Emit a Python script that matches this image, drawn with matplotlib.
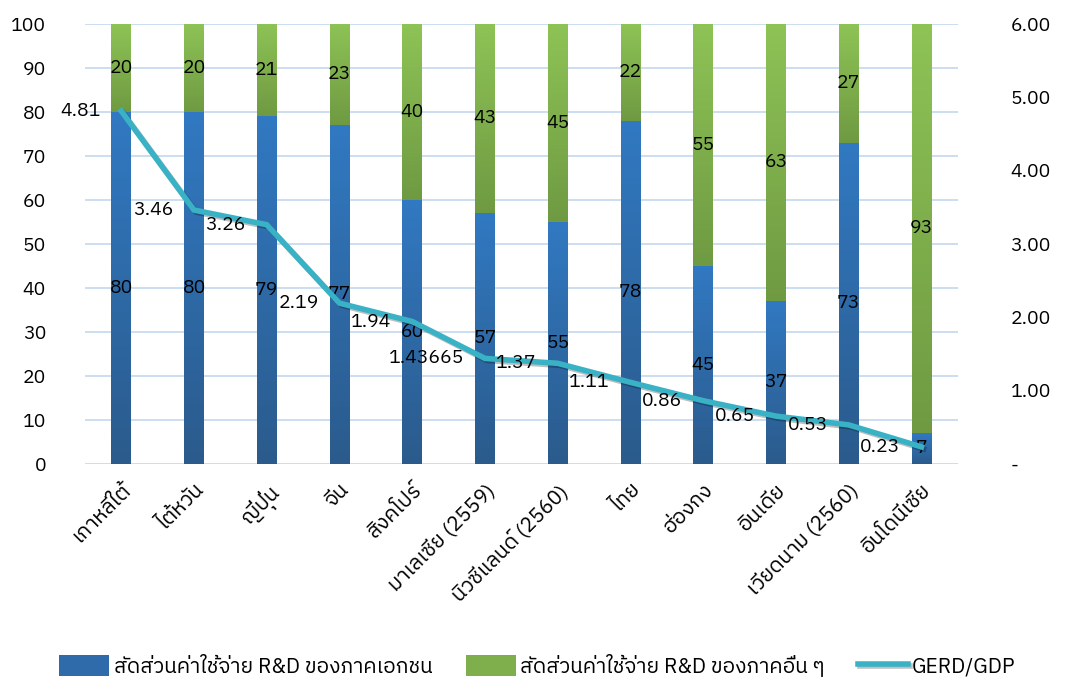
import numpy as np
import matplotlib
matplotlib.use("Agg")
import matplotlib.pyplot as plt
from matplotlib import font_manager
from matplotlib.ft2font import FT2Font
from matplotlib.colors import LinearSegmentedColormap
import matplotlib.patheffects as pe

# data
countries = ["เกาหลีใต้", "ไต้หวัน", "ญี่ปุ่น", "จีน", "สิงคโปร์", "มาเลเซีย (2559)",
             "นิวซีแลนด์ (2560)", "ไทย", "ฮ่องกง", "อินเดีย", "เวียดนาม (2560)", "อินโดนีเซีย"]
private_share = [80, 80, 79, 77, 60, 57, 55, 78, 45, 37, 73, 7]
other_share = [20, 20, 21, 23, 40, 43, 45, 22, 55, 63, 27, 93]
gerd_gdp = [4.81, 3.46, 3.26, 2.19, 1.94, 1.43665, 1.37, 1.11, 0.86, 0.65, 0.53, 0.23]
gerd_labels = ["4.81", "3.46", "3.26", "2.19", "1.94", "1.43665", "1.37", "1.11",
               "0.86", "0.65", "0.53", "0.23"]
left_ticks = [0, 10, 20, 30, 40, 50, 60, 70, 80, 90, 100]
right_ticks = [0, 1, 2, 3, 4, 5, 6]
right_tick_labels = ["-", "1.00", "2.00", "3.00", "4.00", "5.00", "6.00"]


# find an installed font that has Thai glyphs
def find_thai_font():
    found = []
    for f in font_manager.fontManager.ttflist:
        try:
            cmap = FT2Font(f.fname).get_charmap()
        except Exception:
            continue
        if 0x0E01 in cmap and 0x0E35 in cmap:
            found.append(f.name)
    found.sort(key=lambda n: ("Thai" not in n, n))
    return found[0] if found else None


thai = find_thai_font()
families = [thai, "DejaVu Sans"] if thai else ["DejaVu Sans"]
plt.rcParams["font.family"] = families

blue = "#2F6BAA"
green = "#7FAE4C"
blue_cmap = LinearSegmentedColormap.from_list("b", ["#2B5B8C", "#3179C2"])
green_cmap = LinearSegmentedColormap.from_list("g", ["#6F9A42", "#8EC356"])
line_col = "#3AB2C6"
grid_col = "#C8DBEF"

fig = plt.figure(figsize=(10.75, 6.8), dpi=100)
ax = fig.add_axes([0.079, 0.318, 0.812, 0.647])
x = np.arange(len(countries))
w = 0.27

bars1 = ax.bar(x, private_share, w, color=blue, zorder=2, label="สัดส่วนค่าใช้จ่าย R&D ของภาคเอกชน")
bars2 = ax.bar(x, other_share, w, bottom=private_share, color=green, zorder=2,
               label="สัดส่วนค่าใช้จ่าย R&D ของภาคอื่น ๆ")

# vertical gradient in each segment, like the original
grad = np.linspace(0, 1, 256).reshape(-1, 1)
for bars, cm in [(bars1, blue_cmap), (bars2, green_cmap)]:
    for b in bars:
        x0, y0 = b.get_x(), b.get_y()
        im = ax.imshow(grad, cmap=cm, origin="lower", aspect="auto", zorder=2.5,
                       extent=[x0, x0 + b.get_width(), y0, y0 + b.get_height()])
        im.set_clip_path(b)

for i in range(len(x)):
    ax.text(x[i], private_share[i] / 2, str(private_share[i]), ha="center", va="center",
            fontsize=14, zorder=5)
    ax.text(x[i], private_share[i] + other_share[i] / 2, str(other_share[i]), ha="center",
            va="center", fontsize=14, zorder=5)

ax.set_xlim(-0.5, len(x) - 0.5)
ax.set_ylim(0, 100)
ax.set_yticks(left_ticks)
ax.yaxis.grid(True, color=grid_col, lw=1.3, zorder=0)
ax.set_axisbelow(True)
for s in ax.spines.values():
    s.set_visible(False)
ax.tick_params(axis="both", length=0, labelsize=14)
ax.tick_params(axis="y", pad=28)
ax.set_xticks(x)
ax.set_xticklabels(countries, rotation=45, ha="right", rotation_mode="anchor", fontsize=15)
ax.tick_params(axis="x", pad=12)

ax2 = ax.twinx()
ax2.plot(x, gerd_gdp, color=line_col, lw=4, zorder=4, label="GERD/GDP",
         path_effects=[pe.SimpleLineShadow(offset=(1.5, -1.5), alpha=0.25), pe.Normal()])
ax2.set_ylim(0, 6)
ax2.set_yticks(right_ticks)
ax2.set_yticklabels(right_tick_labels)
for s in ax2.spines.values():
    s.set_visible(False)
ax2.tick_params(axis="y", length=0, labelsize=14, pad=38)
for i in range(len(x)):
    ax2.annotate(gerd_labels[i], (x[i], gerd_gdp[i]), xytext=(-15, 0),
                 textcoords="offset points", ha="right", va="center", fontsize=14, zorder=6)

h1, l1 = ax.get_legend_handles_labels()
h2, l2 = ax2.get_legend_handles_labels()
fig.legend(h1 + h2, l1 + l2, loc="center", bbox_to_anchor=(0.5, 0.022), ncol=3,
           frameon=False, fontsize=15, handlelength=2.4, handleheight=1.2,
           columnspacing=1.6, handletextpad=0.2)

fig.savefig("out.png", dpi=100)
